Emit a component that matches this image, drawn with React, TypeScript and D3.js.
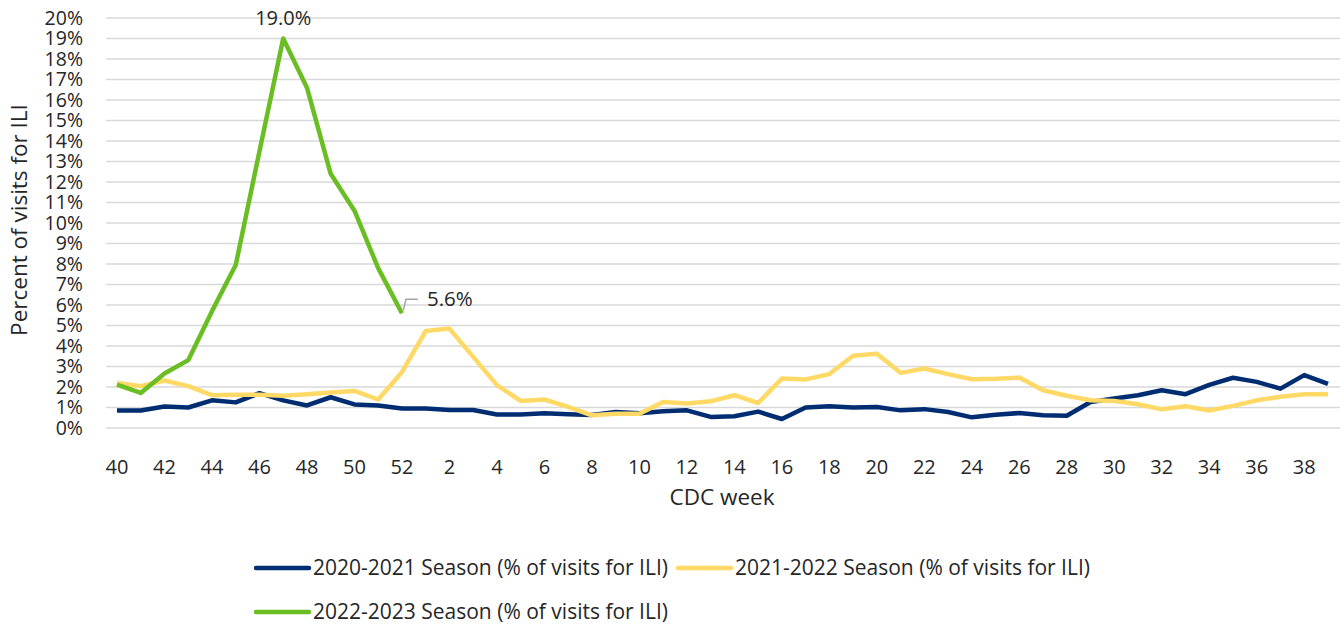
import React from "react";
import * as d3 from "d3";

const weeks = ["40","41","42","43","44","45","46","47","48","49","50","51","52","1","2","3","4","5","6","7","8","9","10","11","12","13","14","15","16","17","18","19","20","21","22","23","24","25","26","27","28","29","30","31","32","33","34","35","36","37","38","39"];
const tickWeeks = ["40","42","44","46","48","50","52","2","4","6","8","10","12","14","16","18","20","22","24","26","28","30","32","34","36","38"];

const season2020 = [0.85,0.85,1.05,1.0,1.35,1.25,1.7,1.35,1.1,1.5,1.15,1.1,0.95,0.95,0.88,0.88,0.66,0.66,0.72,0.67,0.64,0.78,0.72,0.82,0.86,0.54,0.57,0.8,0.44,1.0,1.06,1.0,1.02,0.86,0.92,0.78,0.52,0.65,0.73,0.62,0.6,1.27,1.44,1.6,1.84,1.65,2.1,2.45,2.25,1.92,2.58,2.15];
const season2021 = [2.2,2.04,2.32,2.04,1.6,1.62,1.62,1.57,1.65,1.73,1.81,1.39,2.72,4.73,4.85,3.47,2.09,1.32,1.39,1.03,0.62,0.7,0.7,1.27,1.19,1.3,1.6,1.22,2.41,2.37,2.63,3.52,3.62,2.69,2.9,2.63,2.38,2.4,2.46,1.84,1.57,1.35,1.32,1.16,0.91,1.06,0.85,1.08,1.35,1.52,1.65,1.65];
const season2022 = [2.12,1.71,2.66,3.31,5.7,7.95,13.5,19.0,16.6,12.4,10.6,7.8,5.6];

const yTicks = [0,1,2,3,4,5,6,7,8,9,10,11,12,13,14,15,16,17,18,19,20];

const seriesNames = [
  "2020-2021 Season (% of visits for ILI)",
  "2021-2022 Season (% of visits for ILI)",
  "2022-2023 Season (% of visits for ILI)",
];
const colors = ["#002D72", "#FFD966", "#6ABD23"];

const FONT = "'Open Sans', 'Noto Sans', sans-serif";
const TXT = "#262626";

export default function App() {
  const x = d3.scalePoint<string>().domain(weeks).range([117, 1328]);
  const y = d3.scaleLinear().domain([0, 20]).range([428, 18]);
  const line = d3
    .line<number>()
    .x((_, i) => x(weeks[i]) as number)
    .y((d) => y(d));

  const all = [season2020, season2021, season2022];
  const peakIdx = season2022.indexOf(d3.max(season2022) as number);
  const lastIdx = season2022.length - 1;
  const lx = x(weeks[lastIdx]) as number;
  const ly = y(season2022[lastIdx]);

  return (
    <svg width={1343} height={625} style={{ position: "absolute", left: 0, top: 0, background: "#fff" }} fontFamily={FONT}>
      {yTicks.map((t) => (
        <g key={t}>
          <line x1={106} x2={1340} y1={y(t)} y2={y(t)} stroke="#d9d9d9" strokeWidth={1.5} />
          <text x={83} y={y(t)} dy="0.35em" textAnchor="end" fontSize={19.5} fill={TXT}>
            {t + "%"}
          </text>
        </g>
      ))}
      {tickWeeks.map((w) => (
        <text key={w} x={x(w)} y={467} dy="0.35em" textAnchor="middle" fontSize={20} fill={TXT}>
          {w}
        </text>
      ))}
      <text x={722} y={497} dy="0.35em" textAnchor="middle" fontSize={22.5} fill={TXT}>CDC week</text>
      <text transform="translate(19,220) rotate(-90)" dy="0.35em" textAnchor="middle" fontSize={22.5} fill={TXT}>
        Percent of visits for ILI
      </text>

      {all.map((s, k) => (
        <path key={k} d={line(s) as string} fill="none" stroke={colors[k]} strokeWidth={4.5} strokeLinejoin="round" />
      ))}

      <text x={x(weeks[peakIdx])} y={18} dy="0.35em" textAnchor="middle" fontSize={20} fill={TXT}>
        {season2022[peakIdx].toFixed(1) + "%"}
      </text>
      <path d={`M${lx + 1.5},${ly - 3} L${lx + 4},${ly - 14} L${lx + 16},${ly - 14}`} fill="none" stroke="#a6a6a6" strokeWidth={1.5} />
      <text x={lx + 25} y={ly - 14} dy="0.35em" fontSize={20.5} fill={TXT}>
        {season2022[lastIdx].toFixed(1) + "%"}
      </text>

      {[
        { lx: 256, ty: 568, i: 0 },
        { lx: 678, ty: 568, i: 1 },
        { lx: 256, ty: 612, i: 2 },
      ].map((l) => (
        <g key={l.i}>
          <line x1={l.lx} x2={l.lx + 53} y1={l.ty} y2={l.ty} stroke={colors[l.i]} strokeWidth={4.5} strokeLinecap="round" />
          <text x={l.lx + 57} y={l.ty} dy="0.35em" fontSize={21} fill={TXT} textLength={355} lengthAdjust="spacingAndGlyphs">
            {seriesNames[l.i]}
          </text>
        </g>
      ))}
    </svg>
  );
}
